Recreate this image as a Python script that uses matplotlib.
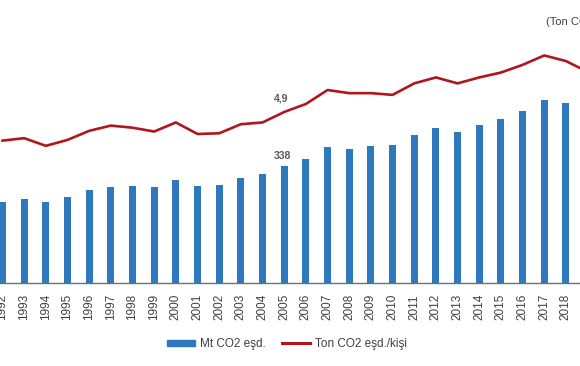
import numpy as np
import matplotlib
matplotlib.use("Agg")
import matplotlib.pyplot as plt
from matplotlib.patches import Patch
from matplotlib.lines import Line2D

plt.rcParams['font.family'] = ['Liberation Sans', 'DejaVu Sans']

years = list(range(1992, 2020))
mt_co2 = [233.7, 242.4, 234.6, 248.2, 269.3, 278.0, 281.8, 278.0, 298.3, 281.8,
          284.7, 305.0, 314.8, 338.0, 358.2, 393.0, 388.0, 395.9, 398.8, 428.6,
          448.9, 438.2, 458.4, 475.8, 499.0, 530.0, 522.2, 506.1]
ton_per_capita = [4.08, 4.15, 3.93, 4.10, 4.36, 4.51, 4.45, 4.34, 4.60, 4.27,
                  4.29, 4.55, 4.60, 4.90, 5.13, 5.53, 5.44, 5.44, 5.39, 5.72,
                  5.89, 5.72, 5.89, 6.03, 6.25, 6.52, 6.36, 6.05]
year_labels = [str(y) for y in years]

blue = '#2E78BE'
red = '#B0161E'
grey = '#404040'

W, H = 580, 366
fig = plt.figure(figsize=(W / 100, H / 100), dpi=100)
base = 283
ax = fig.add_axes([0, (H - base) / H, 1, base / H])
ax2 = ax.twinx()

ax.bar(years, mt_co2, width=0.32, color=blue, zorder=2)
ax2.plot(years, ton_per_capita, color=red, lw=1.9, zorder=3)

ax.set_xticks(years)
ax.set_xticklabels(year_labels, rotation=90, fontsize=8.5, color=grey)
ax.tick_params(axis='x', length=0, pad=8)

# the reference is a crop: 1992 sits at the left edge, 2018 near the right one
step = 21.67
ax.set_xlim(1992 - 2.5 / step, 1992 + 577.5 / step)
ax.set_ylim(0, base * 2.896)
ax2.set_ylim(0, base / 34.9)

for a in (ax, ax2):
    for s in ('top', 'left', 'right'):
        a.spines[s].set_visible(False)
    a.set_yticks([])
ax2.spines['bottom'].set_visible(False)
ax.spines['bottom'].set_color('#707070')
ax.spines['bottom'].set_linewidth(1.0)

i05 = years.index(2005)
ax.annotate('338', (2005, mt_co2[i05]), xytext=(-1, 4), textcoords='offset points',
            ha='center', va='bottom', fontsize=7.5, fontweight='bold', color='#595959')
ax2.annotate('4,9', (2005, ton_per_capita[i05]), xytext=(-2, 6), textcoords='offset points',
             ha='center', va='bottom', fontsize=7.5, fontweight='bold', color='#595959')

fig.text(546.5 / W, 1 - 22 / H, '(Ton CO2 eşd./kişi)', fontsize=8, color=grey,
         ha='left', va='center')

handles = [Patch(color=blue, label='Mt CO2 eşd.'),
           Line2D([], [], color=red, lw=2.2, label='Ton CO2 eşd./kişi')]
fig.legend(handles=handles, loc='center', ncol=2, frameon=False,
           bbox_to_anchor=(287 / W, 1 - 344 / H), fontsize=8.5,
           handlelength=2.4, handleheight=0.45, handletextpad=0.4,
           columnspacing=1.4, labelcolor=grey)

fig.savefig('out.png', dpi=100)
